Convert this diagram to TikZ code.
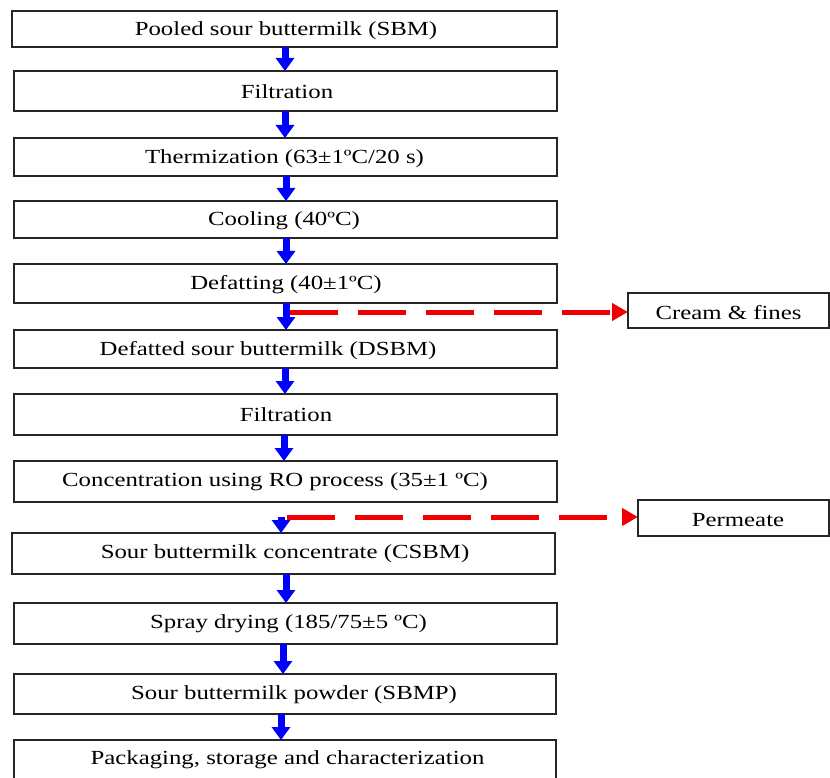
\documentclass[tikz,border=0pt]{standalone}
\usepackage{fontspec}
\setmainfont{Liberation Serif}[FakeStretch=1.24]
\usetikzlibrary{arrows.meta}
\begin{document}
\begin{tikzpicture}[x=1pt,y=-1pt,
  box/.style={draw=black!85,line width=1.8pt,fill=white,inner sep=0pt,outer sep=0pt},
  txt/.style={inner sep=0pt,font=\fontsize{20pt}{24pt}\selectfont},
  flow/.style={draw={rgb,255:red,0;green,0;blue,255},line width=7pt,
    -{Triangle[width=18pt,length=13pt]}},
  side/.style={draw={rgb,255:red,240;green,0;blue,0},line width=5pt,
    dash pattern=on 48pt off 20pt,-{Triangle[width=17pt,length=16pt]}}]
\useasboundingbox (0,0) rectangle (830,778);
% main boxes
\node[box,minimum width=545pt,minimum height=36pt] (b1) at (284.5,29) {};
\node[box,minimum width=543pt,minimum height=40pt] (b2) at (285.5,91) {};
\node[box,minimum width=543pt,minimum height=38pt] (b3) at (285.5,157) {};
\node[box,minimum width=543pt,minimum height=37pt] (b4) at (285.5,219.5) {};
\node[box,minimum width=543pt,minimum height=39pt] (b5) at (285.5,283.5) {};
\node[box,minimum width=543pt,minimum height=38pt] (b6) at (285.5,349) {};
\node[box,minimum width=543pt,minimum height=41pt] (b7) at (285.5,414.5) {};
\node[box,minimum width=543pt,minimum height=41pt] (b8) at (285.5,481.5) {};
\node[box,minimum width=543pt,minimum height=41pt] (b9) at (283.5,553.5) {};
\node[box,minimum width=543pt,minimum height=41pt] (b10) at (285.5,623.5) {};
\node[box,minimum width=542pt,minimum height=40pt] (b11) at (285,694) {};
\node[box,minimum width=542pt,minimum height=44pt] (b12) at (285,762) {};
% side boxes
\node[box,minimum width=201pt,minimum height=35pt] (cream) at (728.5,310.5) {};
\node[box,minimum width=191pt,minimum height=36pt] (perm) at (733.5,518) {};
% texts
\node[txt] (t1) at (286,31) {Pooled sour buttermilk (SBM)};
\node[txt] (t2) at (287,92) {Filtration};
\node[txt] (t3) at (284.5,159) {Thermization (63±1ºC/20 s)};
\node[txt] (t4) at (284,221) {Cooling (40ºC)};
\node[txt] (t5) at (286,285) {Defatting (40±1ºC)};
\node[txt] (t6) at (268,351) {Defatted sour buttermilk (DSBM)};
\node[txt] (t7) at (286,415) {Filtration};
\node[txt] (t8) at (275,482) {Concentration using RO process (35±1 ºC)};
\node[txt] (t9) at (285,554) {Sour buttermilk concentrate (CSBM)};
\node[txt] (t10) at (288.5,624) {Spray drying (185/75±5 ºC)};
\node[txt] (t11) at (294,695) {Sour buttermilk powder (SBMP)};
\node[txt] (t12) at (287.5,760) {Packaging, storage and characterization};
\node[txt] (tc) at (728.5,313) {Cream \& fines};
\node[txt] (tp) at (738,520) {Permeate};
% junction points of side streams
\coordinate (j1) at (290,312);
\coordinate (j2) at (287,517);
% red side streams
\draw[side] (j1) -- (j1 -| cream.west);
\draw[side] (j2) -- (j2 -| perm.west);
% blue flow arrows
\draw[flow] ([xshift=0.5pt]b1.south) -- ([xshift=0.5pt]b1.south |- b2.north);
\draw[flow] ([xshift=-0.5pt]b2.south) -- ([xshift=-0.5pt]b2.south |- b3.north);
\draw[flow] ([xshift=0.5pt]b3.south) -- ([xshift=0.5pt]b3.south |- b4.north);
\draw[flow] ([xshift=0.5pt]b4.south) -- ([xshift=0.5pt]b4.south |- b5.north);
\draw[flow] ([xshift=0.5pt]b5.south) -- ([xshift=0.5pt]b5.south |- b6.north);
\draw[flow] ([xshift=-0.5pt]b6.south) -- ([xshift=-0.5pt]b6.south |- b7.north);
\draw[flow] ([xshift=-1.5pt]b7.south) -- ([xshift=-1.5pt]b7.south |- b8.north);
\draw[flow] (j2 -| 281,0) -- (b9.north -| 281,0);
\draw[flow] ([xshift=2.5pt]b9.south) -- ([xshift=2.5pt]b9.south |- b10.north);
\draw[flow] ([xshift=-2.5pt]b10.south) -- ([xshift=-2.5pt]b10.south |- b11.north);
\draw[flow] ([xshift=-4pt]b11.south) -- ([xshift=-4pt]b11.south |- b12.north);
\end{tikzpicture}
\end{document}
